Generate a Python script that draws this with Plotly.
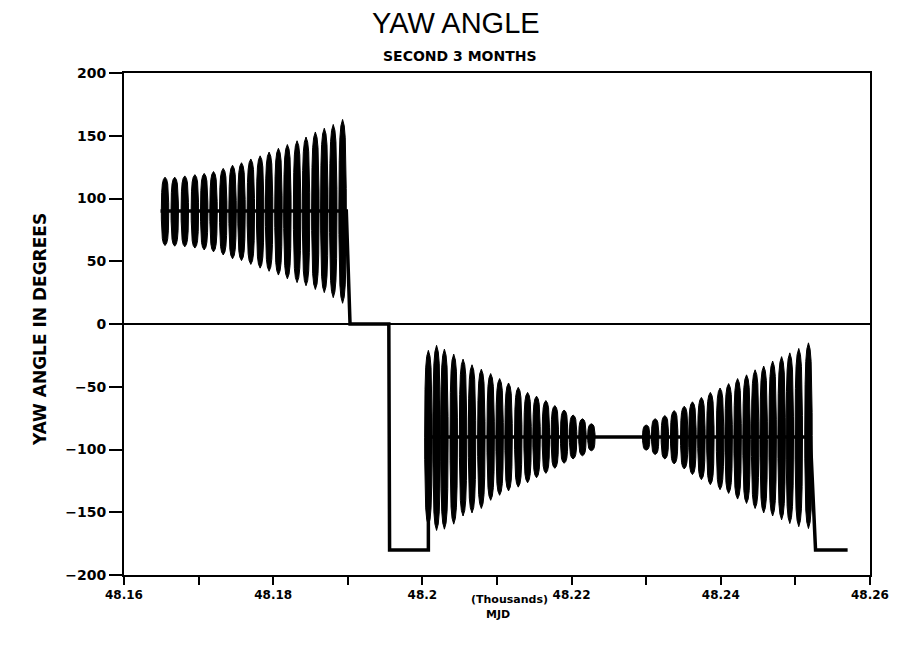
import plotly.graph_objects as go

# ---------------- data (MJD in days, yaw angle in degrees) ----------------
# baseline path of the yaw-angle trace (centre levels, steps and flats)
path_mjd = [48164.9, 48189.8, 48190.3, 48195.5, 48195.6, 48200.8, 48200.8, 48252.0, 48252.7, 48257.0]
path_deg = [90, 90, 0, 0, -180, -180, -90, -90, -180, -180]

# oscillation lobes: time of each lobe with its upper and lower extreme
seg1_mjd = [48165.5, 48166.8, 48168.15, 48169.5, 48170.75, 48172.0, 48173.3, 48174.55, 48175.75, 48177.0,
            48178.25, 48179.45, 48180.7, 48181.9, 48183.2, 48184.4, 48185.65, 48186.85, 48188.05, 48189.3]
seg1_max = [117, 117, 118, 119, 120, 121.5, 124, 126.5, 128.5, 131.5, 134, 137, 140, 143, 146, 149, 153, 156, 159, 163]
seg1_min = [62.5, 62, 61.5, 60.5, 59, 57.5, 55, 52, 50.5, 47.5, 44.5, 42, 39, 36, 33, 30.5, 27.5, 25, 21, 16.5]

seg2_mjd = [48200.8, 48201.9, 48202.95, 48204.2, 48205.45, 48206.65, 48207.9, 48209.15, 48210.35, 48211.55,
            48212.85, 48214.1, 48215.3, 48216.55, 48217.75, 48219.0, 48220.2, 48221.45, 48222.65]
seg2_max = [-21, -17, -20, -24, -28, -32.5, -36, -39.5, -43.5, -47, -50.5, -54.5, -57.5, -61, -65, -68.5, -72.5, -75.5, -79.5]
seg2_min = [-160.5, -164.5, -163.5, -159.5, -153, -150.5, -147, -140.5, -136.5, -133, -130, -126.5, -122.5, -119,
            -115, -111, -107.5, -105, -101]

seg3_mjd = [48230.0, 48231.2, 48232.5, 48233.75, 48235.1, 48236.2, 48237.4, 48238.6, 48239.9, 48241.05,
            48242.25, 48243.45, 48244.6, 48245.75, 48246.95, 48248.15, 48249.25, 48250.45, 48251.75]
seg3_max = [-80.5, -75.5, -73, -69, -65.5, -62, -58.5, -54.5, -51, -47.5, -43.5, -40.5, -36.5, -33.5, -29.5, -26, -23, -19.5, -15]
seg3_min = [-100.5, -104, -107.5, -111.5, -115.5, -120, -124, -128, -132, -135, -139.5, -143, -147, -150.5, -153,
            -156, -159, -161.5, -163]

x_tick_vals = [48.16, 48.17, 48.18, 48.19, 48.20, 48.21, 48.22, 48.23, 48.24, 48.25, 48.26]
x_tick_text = ["48.16", "", "48.18", "", "48.2", "", "48.22", "", "48.24", "", "48.26"]
y_tick_vals = [-200, -150, -100, -50, 0, 50, 100, 150, 200]

# ---------------- styling ----------------
LOBE_HALF_WIDTH = 0.50  # days
# lens profile: (fraction of half-height, fraction of half-width)
PROFILE = [(1.0, 0.0), (0.93, 0.45), (0.8, 0.72), (0.55, 0.9), (0.25, 0.98), (0.0, 1.0),
           (-0.25, 0.98), (-0.55, 0.9), (-0.8, 0.72), (-0.93, 0.45), (-1.0, 0.0)]
FONT = "DejaVu Sans"


def lobes(ts, his, los):
    xs, ys = [], []
    for t, hi, lo in zip(ts, his, los):
        c = (hi + lo) / 2.0
        h = (hi - lo) / 2.0
        for s, w in PROFILE:
            xs.append((t + LOBE_HALF_WIDTH * w) / 1000.0)
            ys.append(c + s * h)
        for s, w in reversed(PROFILE):
            xs.append((t - LOBE_HALF_WIDTH * w) / 1000.0)
            ys.append(c + s * h)
        xs.append(None)
        ys.append(None)
    return xs, ys


fig = go.Figure()

fig.add_trace(go.Scatter(
    x=[t / 1000.0 for t in path_mjd], y=path_deg, mode="lines",
    line=dict(color="black", width=3.5), hoverinfo="skip", showlegend=False))

for ts, his, los in [(seg1_mjd, seg1_max, seg1_min), (seg2_mjd, seg2_max, seg2_min), (seg3_mjd, seg3_max, seg3_min)]:
    lx, ly = lobes(ts, his, los)
    fig.add_trace(go.Scatter(
        x=lx, y=ly, mode="lines", fill="toself", fillcolor="black",
        line=dict(color="black", width=1), hoverinfo="skip", showlegend=False))

# page body offset of the browser (8 px) is compensated in the figure size / margins
OFF = 8
PL, PR, PT, PB = 124, 870, 73, 575   # plot area in screen pixels
W_, H_ = 906 - OFF, 645 - OFF
pw, ph = PR - PL, PB - PT


def px(xp):
    return (xp - PL) / pw


def py(yp):
    return (PB - yp) / ph


fig.update_layout(
    width=W_, height=H_,
    margin=dict(l=PL - OFF, r=W_ - (PR - OFF), t=PT - OFF, b=H_ - (PB - OFF)),
    paper_bgcolor="white", plot_bgcolor="white",
    showlegend=False,
    xaxis=dict(
        range=[48.16, 48.26], tickmode="array", tickvals=x_tick_vals, ticktext=x_tick_text,
        ticks="outside", ticklen=8, tickwidth=2, tickcolor="black",
        showline=True, linewidth=2, linecolor="black", mirror=True,
        showgrid=False, zeroline=False, automargin=False,
        tickfont=dict(family=FONT, size=12, color="black", weight="bold"),
    ),
    yaxis=dict(
        range=[-200, 200], tickmode="array", tickvals=y_tick_vals,
        ticks="outside", ticklen=13, tickwidth=2, tickcolor="black",
        showline=True, linewidth=2, linecolor="black", mirror=True,
        showgrid=False, zeroline=True, zerolinewidth=2, zerolinecolor="black", automargin=False,
        tickfont=dict(family=FONT, size=14, color="black", weight="bold"),
    ),
    annotations=[
        dict(text="YAW ANGLE", x=px(456), y=py(23), xref="paper", yref="paper",
             showarrow=False, xanchor="center", yanchor="middle",
             font=dict(family="Liberation Sans", size=29, color="black")),
        dict(text="SECOND 3 MONTHS", x=px(460), y=py(56), xref="paper", yref="paper",
             showarrow=False, xanchor="center", yanchor="middle",
             font=dict(family=FONT, size=14, color="black", weight="bold")),
        dict(text="(Thousands)", x=px(509), y=py(599), xref="paper", yref="paper",
             showarrow=False, xanchor="center", yanchor="middle",
             font=dict(family=FONT, size=11, color="black", weight="bold")),
        dict(text="MJD", x=px(498), y=py(614), xref="paper", yref="paper",
             showarrow=False, xanchor="center", yanchor="middle",
             font=dict(family=FONT, size=11, color="black", weight="bold")),
        dict(text="YAW ANGLE IN DEGREES", x=px(40), y=py(330), xref="paper", yref="paper",
             showarrow=False, xanchor="center", yanchor="middle", textangle=-90,
             font=dict(family=FONT, size=17, color="black", weight="bold")),
    ],
)

fig.write_html("out.html")
